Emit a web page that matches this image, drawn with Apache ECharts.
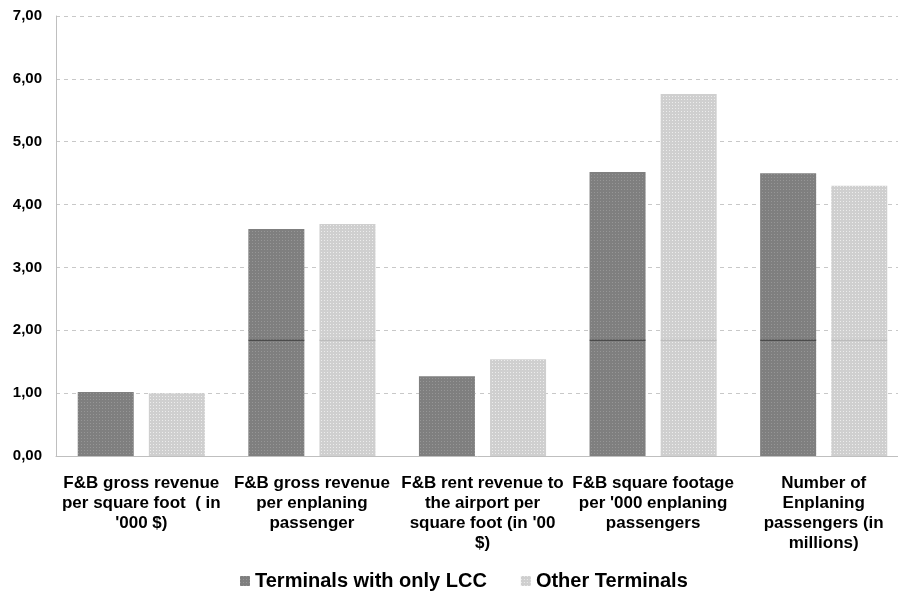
<!DOCTYPE html>
<html>
<head>
<meta charset="utf-8">
<script src="https://cdn.jsdelivr.net/npm/echarts@6/dist/echarts.min.js"></script>
<style>
  html, body { margin: 0; padding: 0; background: #fff; }
  #chart { width: 898px; height: 596px; }
</style>
</head>
<body>
<div id="chart"></div>
<script>
var categories = [
    "F&B gross revenue\nper square foot  ( in\n'000 $)",
    "F&B gross revenue\nper enplaning\npassenger",
    "F&B rent revenue to\nthe airport per\nsquare foot (in '00\n$)",
    "F&B square footage\nper '000 enplaning\npassengers",
    "Number of\nEnplaning\npassengers (in\nmillions)"
];
var seriesNames = ["Terminals with only LCC", "Other Terminals"];
var lccValues = [1.02, 3.61, 1.27, 4.52, 4.50];
var otherValues = [1.00, 3.69, 1.54, 5.76, 4.30];
// thin line that shows inside some bars
var innerLineValue = 1.84;
var innerLineCats = [1, 3, 4];

var chart = echarts.init(document.getElementById("chart"));

var lineData = innerLineCats.map(function (c) { return [c, innerLineValue]; });

var option = {
    animation: false,
    textStyle: { fontFamily: "Liberation Sans, Arial, sans-serif" },
    grid: { left: 56, width: 853, top: 16, height: 440, outerBoundsMode: "none" },
    legend: {
        data: seriesNames,
        top: 566,
        left: 235,
        itemWidth: 10,
        itemHeight: 10,
        itemGap: 34,
        icon: "rect",
        textStyle: { fontSize: 20, fontWeight: "bold", color: "#000" }
    },
    xAxis: {
        type: "category",
        data: categories,
        axisLine: { lineStyle: { color: "#bfbfbf", width: 1 } },
        axisTick: { show: false },
        axisLabel: {
            interval: 0,
            fontSize: 17,
            fontWeight: "bold",
            color: "#000",
            lineHeight: 20,
            margin: 17,
            align: "center"
        }
    },
    yAxis: {
        type: "value",
        min: 0,
        max: 7,
        interval: 1,
        axisLine: { show: true, lineStyle: { color: "#bfbfbf" } },
        axisTick: { show: false },
        splitLine: { lineStyle: { color: "#c8c8c8", type: [4, 4] } },
        axisLabel: {
            fontSize: 15,
            fontWeight: "bold",
            color: "#000",
            margin: 14,
            formatter: function (v) { return v.toFixed(2).replace(".", ","); }
        }
    },
    series: [
        {
            name: seriesNames[0],
            type: "bar",
            data: lccValues,
            barWidth: 56,
            barGap: "27%",
            itemStyle: {
                color: "#7f7f7f",
                decal: {
                    symbol: "rect",
                    symbolSize: 1,
                    dashArrayX: [1, 2],
                    dashArrayY: [1, 2],
                    color: "rgba(170,170,170,0.55)"
                }
            }
        },
        {
            name: seriesNames[1],
            type: "bar",
            data: otherValues,
            barWidth: 56,
            itemStyle: {
                color: "#cfcfcf",
                decal: {
                    symbol: "rect",
                    symbolSize: 1,
                    dashArrayX: [1, 2],
                    dashArrayY: [1, 2],
                    color: "rgba(255,255,255,0.6)"
                }
            }
        },
        {
            type: "scatter",
            data: lineData,
            symbol: "rect",
            symbolSize: [56, 1],
            symbolOffset: [-35.5, 0],
            itemStyle: { color: "#2a2a2a" },
            silent: true,
            z: 5
        },
        {
            type: "scatter",
            data: lineData,
            symbol: "rect",
            symbolSize: [56, 1],
            symbolOffset: [35.5, 0],
            itemStyle: { color: "#b0b0b0" },
            silent: true,
            z: 5
        }
    ]
};

chart.setOption(option);
</script>
</body>
</html>
